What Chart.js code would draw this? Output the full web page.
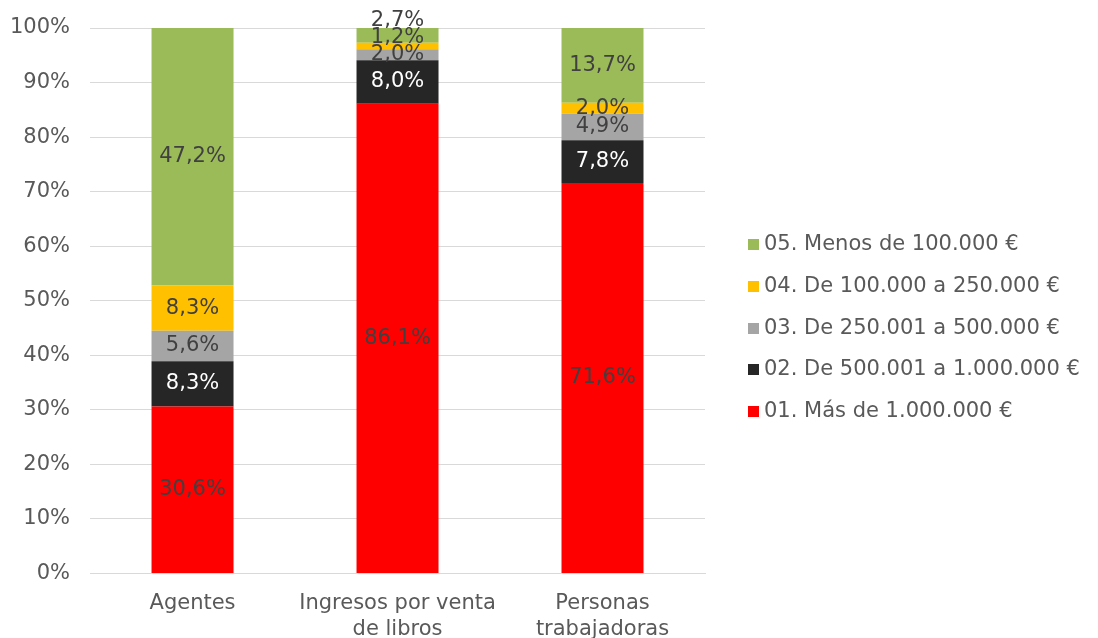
<!DOCTYPE html>
<html>
<head>
<meta charset="utf-8">
<script src="https://cdn.jsdelivr.net/npm/chart.js@4/dist/chart.umd.min.js"></script>
<style>
  html, body { margin: 0; padding: 0; background: #ffffff; }
  #wrap { position: relative; width: 1098px; height: 638px; overflow: hidden; }
  #legend {
    position: absolute; left: 748px; top: 223px;
    font-family: 'DejaVu Sans'; font-size: 21px; color: #595959;
  }
  #legend .item { height: 41.75px; line-height: 41.75px; white-space: nowrap; }
  #legend .box { display: inline-block; width: 11px; height: 11px; margin-right: 5px; vertical-align: 0px; }
</style>
</head>
<body>
<div id="wrap">
  <canvas id="stackChart" width="1098" height="638"></canvas>
  <div id="legend"></div>
</div>
<script>
const categories = ["Agentes", ["Ingresos por venta", "de libros"], ["Personas", "trabajadoras"]];
const seriesNames = [
    "01. Más de 1.000.000 €",
    "02. De 500.001 a 1.000.000 €",
    "03. De 250.001 a 500.000 €",
    "04. De 100.000 a 250.000 €",
    "05. Menos de 100.000 €",
];
const mas1M = [30.6, 86.1, 71.6];
const de500kA1M = [8.3, 8.0, 7.8];
const de250kA500k = [5.6, 2.0, 4.9];
const de100kA250k = [8.3, 1.2, 2.0];
const menos100k = [47.2, 2.7, 13.7];
const yTicks = [0, 10, 20, 30, 40, 50, 60, 70, 80, 90, 100];
const seriesColors = ["#ff0000", "#262626", "#a5a5a5", "#ffc000", "#9bbb59"];
const labelColors = ["#404040", "#ffffff", "#404040", "#404040", "#404040"];

const allSeries = [mas1M, de500kA1M, de250kA500k, de100kA250k, menos100k];
const FONT = "'DejaVu Sans'";

// value in the middle of each segment, pushed up when it would collide with the one below
const segmentLabels = {
    id: "segmentLabels",
    afterDatasetsDraw(chart) {
        const c = chart.ctx;
        c.save();
        c.font = "21px " + FONT;
        c.textAlign = "center";
        c.textBaseline = "middle";
        const n = chart.data.labels.length;
        for (let j = 0; j < n; j++) {
            let lastY = Infinity;
            chart.data.datasets.forEach((ds, i) => {
                const bar = chart.getDatasetMeta(i).data[j];
                let y = (bar.y + bar.base) / 2;
                if (y > lastY - 17) y = lastY - 17;
                lastY = y;
                c.fillStyle = labelColors[i];
                c.fillText(ds.data[j].toFixed(1).replace(".", ",") + "%", bar.x, y);
            });
        }
        c.restore();
    },
};

const ctx = document.getElementById("stackChart").getContext("2d");

const chart = new Chart(ctx, {
    type: "bar",
    data: {
        labels: categories,
        datasets: allSeries.map((vals, i) => ({
            label: seriesNames[i],
            data: vals,
            backgroundColor: seriesColors[i],
            borderWidth: 0,
            barPercentage: 0.4,
            categoryPercentage: 1,
        })),
    },
    options: {
        responsive: false,
        animation: false,
        layout: {
            padding: { top: 0, right: 393, left: -10, bottom: -14 },
        },
        plugins: {
            legend: { display: false },
            tooltip: { enabled: false },
        },
        scales: {
            x: {
                stacked: true,
                grid: { display: false },
                border: { color: "#d9d9d9" },
                ticks: {
                    padding: 9,
                    color: "#595959",
                    font: { family: FONT, size: 21, lineHeight: 1.25 },
                    maxRotation: 0,
                },
            },
            y: {
                stacked: true,
                min: 0,
                max: 100,
                afterBuildTicks: (axis) => {
                    axis.ticks = yTicks.map((v) => ({ value: v }));
                },
                afterFit: (axis) => {
                    axis.paddingTop = 28;
                },
                grid: { color: "#d9d9d9", drawTicks: false },
                border: { display: false },
                ticks: {
                    padding: 20,
                    color: "#595959",
                    font: { family: FONT, size: 21 },
                    callback: (v) => v + "%",
                },
            },
        },
    },
    plugins: [segmentLabels],
});

// legend, top to bottom in reverse series order like the original
const legendEl = document.getElementById("legend");
for (let i = seriesNames.length - 1; i >= 0; i--) {
    const row = document.createElement("div");
    row.className = "item";
    const box = document.createElement("span");
    box.className = "box";
    box.style.background = seriesColors[i];
    row.appendChild(box);
    row.appendChild(document.createTextNode(seriesNames[i]));
    legendEl.appendChild(row);
}
</script>
</body>
</html>
